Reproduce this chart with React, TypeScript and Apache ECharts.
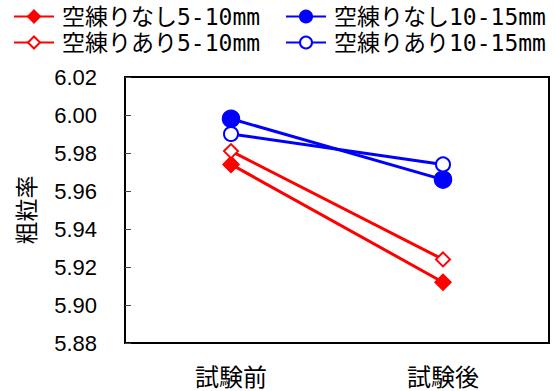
import React, { useEffect, useRef } from "react";
import * as echarts from "echarts";

const categories = ["試験前", "試験後"];
const seriesNames = ["空練りなし5-10mm", "空練りなし10-15mm", "空練りあり5-10mm", "空練りあり10-15mm"];
const noMix5to10 = [5.974, 5.912];
const noMix10to15 = [5.998, 5.966];
const mix5to10 = [5.981, 5.924];
const mix10to15 = [5.990, 5.974];
const yTicks = { min: 5.88, max: 6.02, interval: 0.02 };

export default function App() {
  const ref = useRef<HTMLDivElement>(null);
  useEffect(() => {
    const chart = echarts.init(ref.current!, null, { renderer: "svg" });
    const red = "#ff0000";
    const blue = "#0000ff";
    const mk = (name: string, data: number[], color: string, symbol: string, size: number) => ({
      name,
      type: "line",
      data,
      symbol,
      symbolSize: size,
      showAllSymbol: true,
      lineStyle: { color, width: 3 },
      itemStyle: { color, borderColor: color, borderWidth: 1.5 },
      emphasis: { disabled: true },
    });
    const legendText = {
      fontFamily: "'DejaVu Sans Mono', 'Noto Sans CJK JP'",
      fontSize: 23,
      lineHeight: 23,
      color: "#000",
      padding: [0, 0, 0, 3],
    };
    const legendBase = {
      orient: "vertical",
      top: 5,
      padding: 0,
      itemWidth: 40,
      itemHeight: 15,
      itemGap: 3,
      textStyle: legendText,
    };
    chart.setOption({
      animation: false,
      legend: [
        { ...legendBase, data: [seriesNames[0], seriesNames[2]], left: 13 },
        { ...legendBase, data: [seriesNames[1], seriesNames[3]], left: 285 },
      ],
      grid: {
        left: 125,
        right: 6,
        top: 77,
        bottom: 48,
        show: true,
        borderColor: "#000",
        borderWidth: 2,
        backgroundColor: "#fff",
      },
      xAxis: {
        type: "category",
        data: categories,
        boundaryGap: true,
        axisLine: { lineStyle: { color: "#000", width: 2 } },
        axisTick: { inside: true, length: 6, lineStyle: { color: "#444", width: 1 } },
        axisLabel: { fontFamily: "Noto Sans CJK JP", fontSize: 24, color: "#000", margin: 20 },
      },
      yAxis: {
        type: "value",
        min: yTicks.min,
        max: yTicks.max,
        interval: yTicks.interval,
        name: "粗粒率",
        nameLocation: "middle",
        nameGap: 89,
        nameRotate: 90,
        nameTextStyle: { fontFamily: "Noto Sans CJK JP", fontSize: 23, color: "#000" },
        splitLine: { show: false },
        axisLine: { show: true, lineStyle: { color: "#000", width: 2 } },
        axisTick: { show: true, inside: true, length: 6, lineStyle: { color: "#444", width: 1 } },
        axisLabel: {
          fontFamily: "Liberation Sans",
          fontSize: 22,
          color: "#000",
          margin: 28,
          formatter: (v: number) => v.toFixed(2),
        },
      },
      series: [
        mk(seriesNames[0], noMix5to10, red, "diamond", 16),
        mk(seriesNames[1], noMix10to15, blue, "circle", 17),
        mk(seriesNames[2], mix5to10, red, "emptyDiamond", 14),
        mk(seriesNames[3], mix10to15, blue, "emptyCircle", 14),
      ],
    });
    return () => chart.dispose();
  }, []);
  return <div ref={ref} style={{ width: 555, height: 391, position: "absolute", left: 0, top: 0 }} />;
}
